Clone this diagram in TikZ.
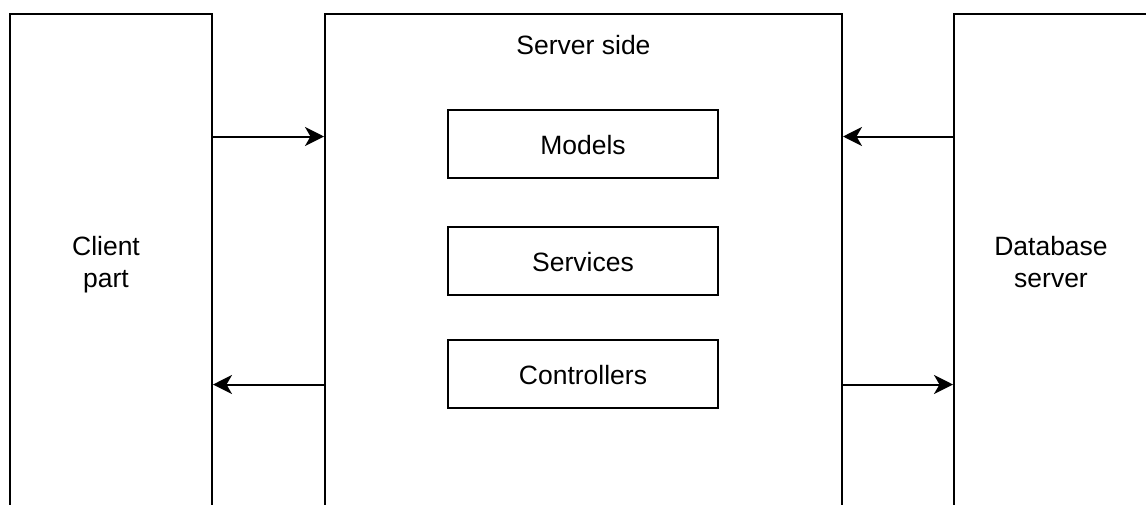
\documentclass[tikz,border=0pt]{standalone}
\usepackage{fontspec}
\setmainfont{Liberation Sans}
\usetikzlibrary{arrows.meta,calc}
\begin{document}
\begin{tikzpicture}[x=1pt,y=-1pt,
  lbl/.style={font=\fontsize{26.5}{32}\selectfont, align=center, inner sep=0pt},
  tier/.style={draw, line width=2pt, rectangle, inner sep=0pt, minimum height=496pt},
  part/.style={lbl, draw, line width=2pt, rectangle, minimum width=270pt, minimum height=68pt,
    text height=24pt, text depth=2pt},
  flow/.style={line width=2pt, -{Stealth[length=19pt,width=19pt,inset=5.5pt]}}]
\useasboundingbox (0,0) rectangle (1146,505);
\clip (0,0) rectangle (1146,505);
\fill[white] (0,0) rectangle (1146,505);

% three tiers
\node[tier, minimum width=202pt] (client) at (111,262) {};
\node[tier, minimum width=517pt] (server) at (583.5,262) {};
\node[tier, minimum width=194pt] (db) at (1051,262) {};
\node[lbl] (clienttxt) at (106,265) {Client\\part};
\node[lbl] (dbtxt) at (1051,262) {Database\\server};
\node[lbl] (title) at (583.5,45) {Server side};

% server components
\node[part] (models) at (583,144) {Models};
\node[part] (services) at (583,261) {Services};
\node[part] (controllers) at (583,373.5) {Controllers};

% request / response coordinates on the tier borders
\coordinate (c1) at ($(client.north east)!0.248!(client.south east)$);
\coordinate (c2) at ($(client.north east)!0.746!(client.south east)$);
\coordinate (s1) at ($(server.north west)!0.248!(server.south west)$);
\coordinate (s2) at ($(server.north west)!0.746!(server.south west)$);
\coordinate (s3) at ($(server.north east)!0.248!(server.south east)$);
\coordinate (s4) at ($(server.north east)!0.746!(server.south east)$);
\coordinate (d1) at ($(db.north west)!0.248!(db.south west)$);
\coordinate (d2) at ($(db.north west)!0.746!(db.south west)$);

\draw[flow] (c1) -- (s1);
\draw[flow] (s2) -- (c2);
\draw[flow] (d1) -- (s3);
\draw[flow] (s4) -- (d2);
\end{tikzpicture}
\end{document}
